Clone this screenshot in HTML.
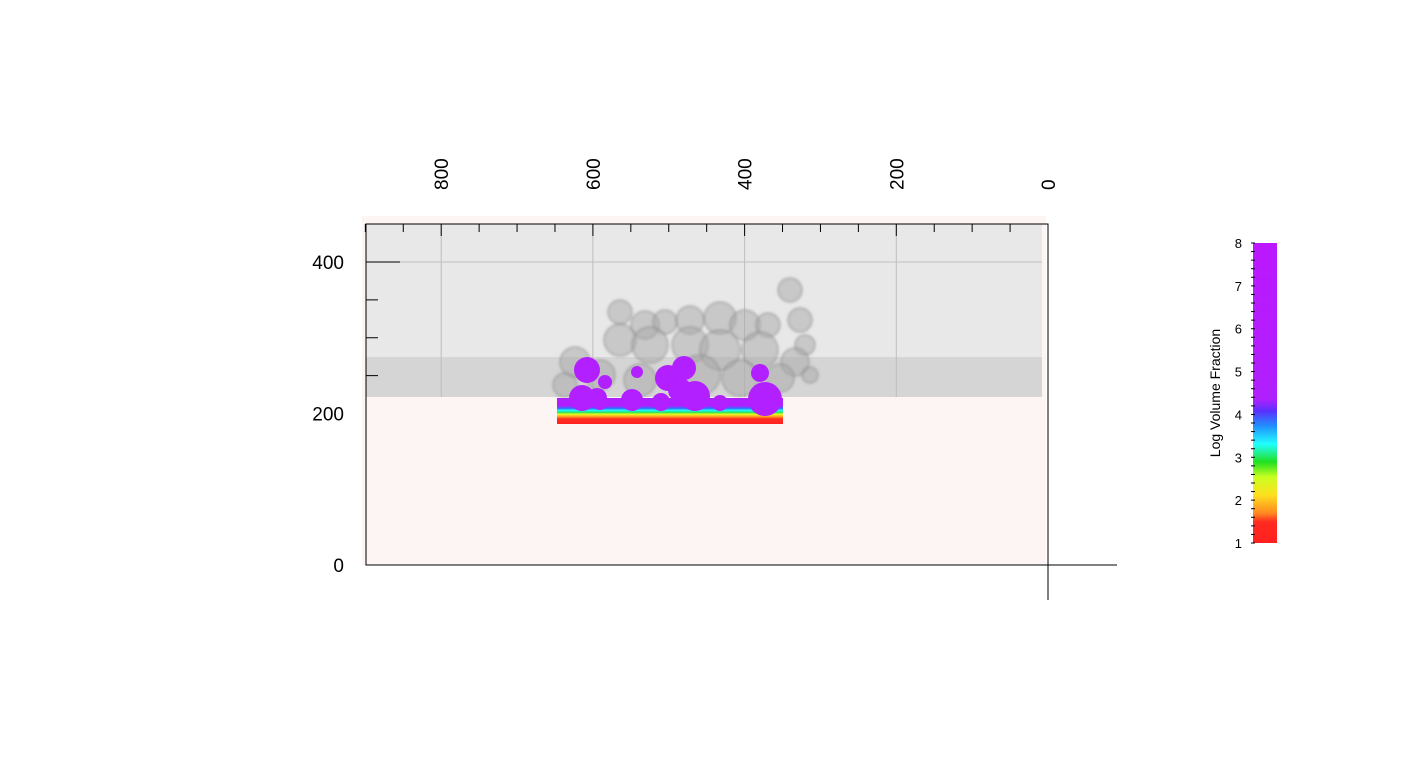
<!DOCTYPE html>
<html><head><meta charset="utf-8"><style>
body{margin:0;background:#fff;width:1411px;height:778px;overflow:hidden;font-family:"Liberation Sans",sans-serif}
svg{display:block}
</style></head><body>
<svg id="chart" width="1411" height="778" xmlns="http://www.w3.org/2000/svg">
<defs>
<linearGradient id="cb" x1="0" y1="1" x2="0" y2="0">
<stop offset="0" stop-color="#ff2020"/><stop offset="0.07" stop-color="#ff2a20"/>
<stop offset="0.1" stop-color="#ff8a20"/><stop offset="0.16" stop-color="#ffe020"/>
<stop offset="0.22" stop-color="#c8ff20"/><stop offset="0.27" stop-color="#20e020"/>
<stop offset="0.33" stop-color="#20ffff"/><stop offset="0.39" stop-color="#2090ff"/>
<stop offset="0.44" stop-color="#5a30ff"/><stop offset="0.48" stop-color="#b020ff"/>
<stop offset="1" stop-color="#bb18ff"/></linearGradient>
<linearGradient id="layer" x1="0" y1="1" x2="0" y2="0">
<stop offset="0" stop-color="#ff2020"/><stop offset="0.2" stop-color="#ff3020"/>
<stop offset="0.3" stop-color="#ffb020"/><stop offset="0.38" stop-color="#e0ff20"/>
<stop offset="0.45" stop-color="#20e060"/><stop offset="0.52" stop-color="#20ffff"/>
<stop offset="0.6" stop-color="#3070ff"/><stop offset="0.7" stop-color="#b020ff"/>
<stop offset="1" stop-color="#b020ff"/></linearGradient>
<filter id="blur"><feGaussianBlur stdDeviation="1.2"/></filter>
</defs>
<g id="plot"></g>
<g id="fig"></g>
<g id="axes"></g>
<g id="cbar"></g>
</svg>
<script>
const xTicks=[800,600,400,200,0];
const yTicks=[0,200,400];
const cbTicks=[1,2,3,4,5,6,7,8];
const grayBlobs=[[620,312,12],[645,325,14],[665,322,12],[690,320,14],[720,318,16],[745,325,15],[768,325,12],[790,290,12],[800,320,12],[805,345,10],[620,340,16],[650,345,18],[690,345,18],[720,350,20],[760,350,18],[795,362,14],[575,362,15],[600,375,15],[640,380,16],[700,375,20],[740,378,18],[780,378,14],[810,375,8],[565,385,12]];
const purpleBlobs=[[587,370,13],[582,398,13],[597,398,10],[632,400,11],[668,378,13],[684,368,12],[695,396,15],[680,390,12],[661,402,9],[760,373,9],[765,399,17],[637,372,6],[605,382,7],[600,402,8],[720,403,8]];
const NS="http://www.w3.org/2000/svg";
const X=v=>1048-v*0.7585, Y=v=>565-v*0.7575;
function mk(p,t,a){const e=document.createElementNS(NS,t);for(const k in a)e.setAttribute(k,a[k]);p.appendChild(e);return e;}
const plot=document.getElementById('plot'),ax=document.getElementById('axes'),fig=document.getElementById('fig'),cb=document.getElementById('cbar');
let e;
e=mk(plot,'rect',{x:362,y:216,width:684,height:349,fill:'#fdf4f4'});

e=mk(plot,'rect',{x:366,y:224,width:676,height:173,fill:'#e8e8e8'});

e=mk(plot,'rect',{x:366,y:357,width:676,height:40,fill:'#d5d5d5'});

xTicks.forEach(v=>{if(v>0){const l=mk(plot,'line',{x1:X(v),x2:X(v),y1:224,y2:397,stroke:'#bdbdbd'});
}});
[400].forEach(v=>{const l=mk(plot,'line',{x1:366,x2:1042,y1:Y(v),y2:Y(v),stroke:'#c0c0c0'});
});
const gg=mk(fig,'g',{filter:'url(#blur)'});
grayBlobs.forEach(b=>{const c=mk(gg,'circle',{cx:b[0],cy:b[1],r:b[2],fill:'#a8a8a8','fill-opacity':0.5,stroke:'#808080','stroke-opacity':0.5,'stroke-width':1.5});
});
e=mk(fig,'rect',{x:557,y:398,width:226,height:26,fill:'url(#layer)'});

purpleBlobs.forEach(b=>{const c=mk(fig,'circle',{cx:b[0],cy:b[1],r:b[2],fill:'#b320ff'});
});
e=mk(ax,'rect',{x:366,y:224,width:682,height:341,fill:'none',stroke:'#000'});

e=mk(ax,'line',{x1:1048,x2:1117,y1:565,y2:565,stroke:'#000'});

e=mk(ax,'line',{x1:1048,x2:1048,y1:565,y2:600,stroke:'#000'});

for(let v=0;v<=900;v+=50){const len=(v%200===0)?12:8;const l=mk(ax,'line',{x1:X(v),x2:X(v),y1:224,y2:224+len,stroke:'#000'});
}
for(let v=250;v<=400;v+=50){const len=(v===400)?34:12;const l=mk(ax,'line',{x1:366,x2:366+len,y1:Y(v),y2:Y(v),stroke:'#000'});
}
xTicks.forEach(v=>{const t=mk(ax,'text',{x:0,y:0,transform:`translate(${X(v)+7},${190}) rotate(-90)`,'font-size':19,fill:'#000'});
t.textContent=v;});
yTicks.forEach(v=>{const t=mk(ax,'text',{x:344,y:Y(v)+7,'text-anchor':'end','font-size':19,fill:'#000'});
t.textContent=v;});
const C=v=>543-(v-1)*(300/7);
e=mk(cb,'rect',{x:1253,y:243,width:24,height:300,fill:'url(#cb)'});

for(let v=1;v<=8.001;v+=0.2){const l=mk(cb,'line',{x1:1251,x2:1255,y1:C(v),y2:C(v),stroke:'#000'});
}
cbTicks.forEach(v=>{const t=mk(cb,'text',{x:1242,y:C(v)+5,'text-anchor':'end','font-size':13,fill:'#000'});
t.textContent=v;});
e=mk(cb,'text',{x:0,y:0,transform:'translate(1220,393) rotate(-90)','text-anchor':'middle','font-size':14,fill:'#000'});
e.textContent='Log Volume Fraction';
</script>
</body></html>
